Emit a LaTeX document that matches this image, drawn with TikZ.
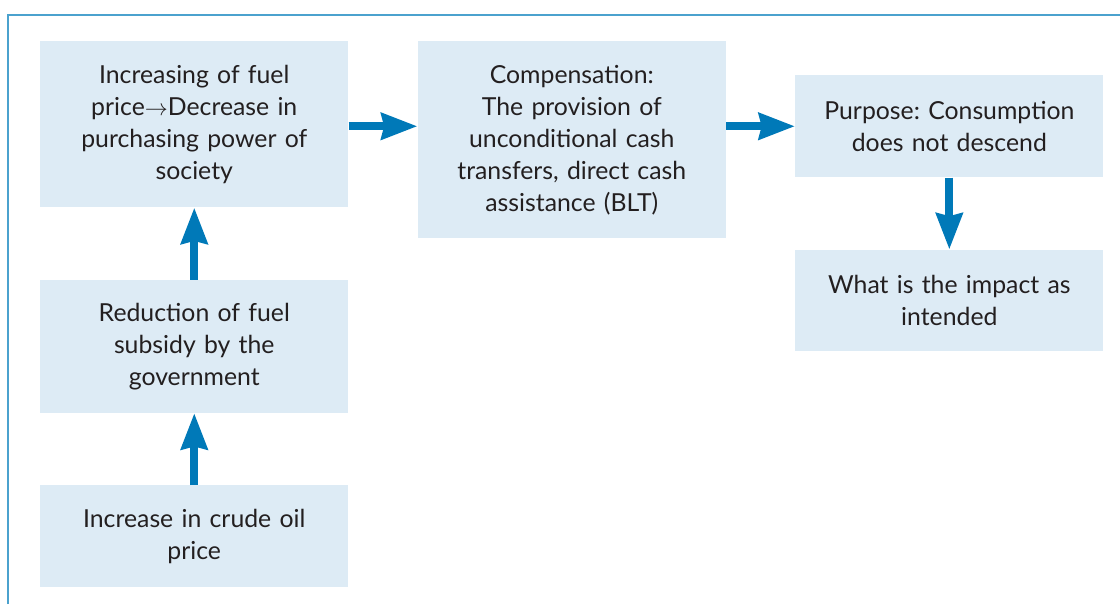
\documentclass[tikz,border=0pt]{standalone}
\usepackage{fontspec}
\setmainfont{Lato}
\frenchspacing
\usetikzlibrary{positioning,arrows.meta}
\definecolor{boxblue}{RGB}{221,235,245}
\definecolor{arrblue}{RGB}{0,121,184}
\definecolor{frameblue}{RGB}{75,162,206}
\definecolor{txtgray}{RGB}{35,31,32}
\tikzset{
    blk/.style={fill=boxblue, text=txtgray, text width=228pt, minimum width=231pt,
        align=center, inner sep=0pt, font=\fontsize{18.6}{24}\selectfont},
    flow/.style={draw=arrblue, line width=6pt,
        -{Stealth[length=27pt,width=19.5pt,inset=2pt]}}
}
\begin{document}
\begin{tikzpicture}[x=0.75pt, y=-0.75pt]
    \useasboundingbox (0,0) rectangle (1120,604);
    \draw[frameblue, line width=1.5pt] (8,604) -- (8,15) -- (1120,15);
    \node[blk, minimum height=124.5pt, anchor=north west] (fuel) at (40,41)
        {Increasing of fuel\\ price$\rightarrow$Decrease in\\ purchasing power of\\ society};
    \node[blk, minimum height=99.75pt, below=54pt of fuel] (subsidy)
        {Reduction of fuel\\ subsidy by the\\ government};
    \node[blk, minimum height=76.5pt, below=54pt of subsidy] (crude)
        {Increase in crude oil\\ price};
    \node[blk, minimum height=147.75pt, right=51.75pt of fuel.north east, anchor=north west] (comp)
        {Compensation:\\ The provision of\\ unconditional cash\\ transfers, direct cash\\ assistance (BLT)};
    \node[blk, minimum height=76.5pt, below right=25.5pt and 51.75pt of comp.north east] (purpose)
        {Purpose: Consumption\\ does not descend};
    \node[blk, minimum height=75.75pt, below=54pt of purpose] (impact)
        {What is the impact as\\ intended};
    \draw[flow] (crude) -- (subsidy);
    \draw[flow] (subsidy) -- (fuel);
    \draw[flow] (purpose.west -| fuel.east) -- (purpose.west -| comp.west);
    \draw[flow] (purpose.west -| comp.east) -- (purpose);
    \draw[flow] (purpose) -- (impact);
\end{tikzpicture}
\end{document}
